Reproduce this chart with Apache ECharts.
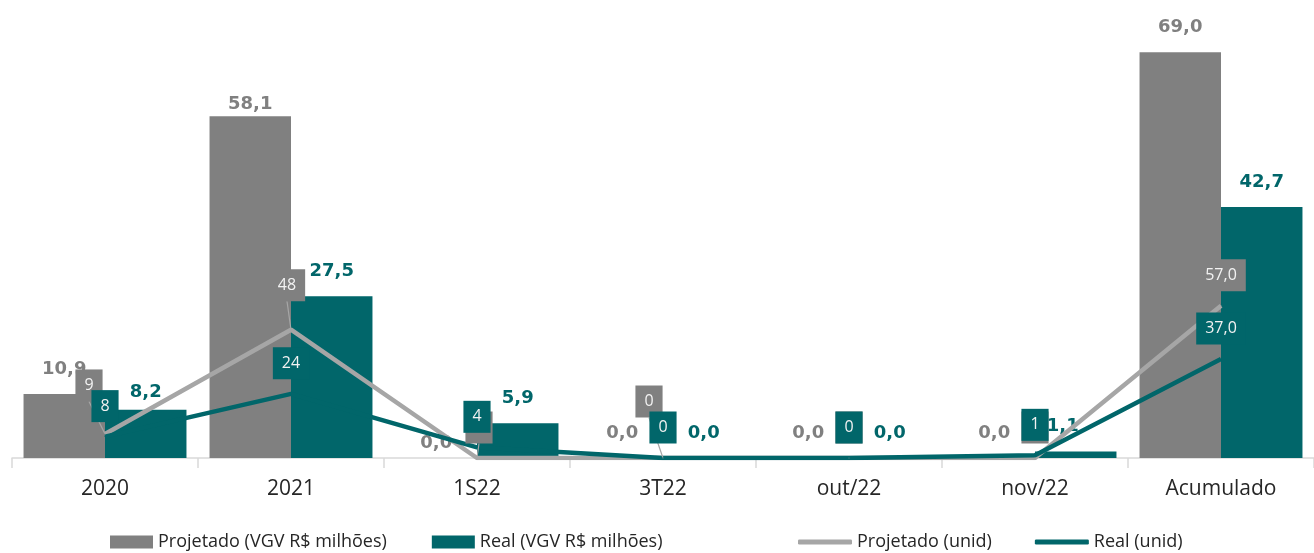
<!DOCTYPE html>
<html>
<head>
<meta charset="utf-8">
<style>
  html, body { margin: 0; padding: 0; background: #ffffff; }
  #chart { width: 1314px; height: 553px; }
</style>
<script src="https://cdn.jsdelivr.net/npm/echarts@6/dist/echarts.min.js"></script>
</head>
<body>
<div id="chart"></div>
<script>
// Periods on the category axis
const categories = ['2020', '2021', '1S22', '3T22', 'out/22', 'nov/22', 'Acumulado'];

// VGV in R$ millions (bars, left scale)
const projetadoVGV = [10.9, 58.1, 0.0, 0.0, 0.0, 0.0, 69.0];
const realVGV = [8.2, 27.5, 5.9, 0.0, 0.0, 1.1, 42.7];

// Units (lines, right scale)
const projetadoUnid = [9, 48, 0, 0, 0, 0, 57];
const realUnid = [8, 24, 4, 0, 0, 1, 37];

// Hand-placed label nudges [dx, dy] so overlapping labels stay readable
const projVGVNudge = [[0, 0], [0, 13], [0, 10], [0, 0], [0, 0], [0, 0], [0, 0]];
const realVGVNudge = [[0, 8], [0, 0], [0, 0], [0, 0], [0, 0], [-13, 0], [0, 0]];
const projUnidNudge = [[-16, -18], [-4, -14], [2, 0], [-14, -26], [0, 0], [0, 0], [0, 0]];

const GRAY = '#808080';
const TEAL = '#01666A';
const LIGHT_GRAY = '#A6A6A6';

const fmt1 = v => v.toFixed(1).replace('.', ',');
const lastIndex = categories.length - 1;
const unidFmt = p => (p.dataIndex === lastIndex ? fmt1(p.value) : String(p.value));

const nudge = table => params => {
  const n = table[params.dataIndex] || [0, 0];
  return { dx: n[0], dy: n[1] };
};

// Leader lines only where a label was pushed away from its point
const withLeaders = (values, table) => values.map((v, i) => ({
  value: v,
  labelLine: { show: table[i][0] !== 0 || table[i][1] !== 0 }
}));

const barLabel = color => ({
  show: true,
  position: 'top',
  distance: 16,
  formatter: p => fmt1(p.value),
  color: color,
  fontFamily: 'DejaVu Sans',
  fontWeight: 'bold',
  fontSize: 18
});

const boxLabel = bg => ({
  show: true,
  position: 'top',
  distance: 14,
  formatter: unidFmt,
  color: '#F2F2F2',
  backgroundColor: bg,
  padding: [7, 9],
  lineHeight: 18,
  fontFamily: 'Open Sans',
  fontSize: 16
});

const chart = echarts.init(document.getElementById('chart'), null, { renderer: 'canvas' });

chart.setOption({
  animation: false,
  backgroundColor: '#ffffff',
  textStyle: { fontFamily: 'Open Sans' },
  grid: { left: 12, right: -8, top: 17, bottom: 95, containLabel: false },
  legend: [
    {
      data: ['Projetado (VGV R$ milhões)', 'Real (VGV R$ milhões)'],
      left: 105,
      top: 527,
      itemWidth: 43,
      itemHeight: 13,
      itemGap: 45,
      icon: 'rect',
      textStyle: { color: '#262626', fontSize: 18, lineHeight: 20, fontFamily: 'Open Sans' }
    },
    {
      data: ['Projetado (unid)', 'Real (unid)'],
      left: 793,
      top: 527,
      itemWidth: 54,
      itemHeight: 5,
      itemGap: 43,
      icon: 'roundRect',
      textStyle: { color: '#262626', fontSize: 18, lineHeight: 20, fontFamily: 'Open Sans' }
    }
  ],
  xAxis: {
    type: 'category',
    data: categories,
    boundaryGap: true,
    axisLine: { show: true, lineStyle: { color: '#D9D9D9', width: 1.5 } },
    axisTick: { show: true, length: 10, lineStyle: { color: '#D9D9D9', width: 1.5 } },
    axisLabel: { color: '#262626', fontSize: 21, margin: 21, fontFamily: 'Open Sans' }
  },
  yAxis: [
    { type: 'value', min: 0, max: 75, show: false, splitLine: { show: false } },
    { type: 'value', min: 0, max: 165, show: false, splitLine: { show: false } }
  ],
  series: [
    {
      name: 'Projetado (VGV R$ milhões)',
      type: 'bar',
      yAxisIndex: 0,
      data: projetadoVGV,
      barGap: '0%',
      barCategoryGap: '12.4%',
      itemStyle: { color: GRAY },
      label: barLabel(GRAY),
      labelLayout: nudge(projVGVNudge)
    },
    {
      name: 'Real (VGV R$ milhões)',
      type: 'bar',
      yAxisIndex: 0,
      data: realVGV,
      barGap: '0%',
      barCategoryGap: '12.4%',
      itemStyle: { color: TEAL },
      label: barLabel(TEAL),
      labelLayout: nudge(realVGVNudge)
    },
    {
      name: 'Projetado (unid)',
      type: 'line',
      yAxisIndex: 1,
      data: withLeaders(projetadoUnid, projUnidNudge),
      symbol: 'circle',
      symbolSize: 1,
      showSymbol: true,
      lineStyle: { color: LIGHT_GRAY, width: 4.5 },
      itemStyle: { color: LIGHT_GRAY },
      label: boxLabel(GRAY),
      labelLine: { show: true, lineStyle: { color: LIGHT_GRAY, width: 1.2 } },
      labelLayout: nudge(projUnidNudge)
    },
    {
      name: 'Real (unid)',
      type: 'line',
      yAxisIndex: 1,
      data: realUnid,
      symbol: 'circle',
      symbolSize: 1,
      showSymbol: true,
      lineStyle: { color: TEAL, width: 4.5 },
      itemStyle: { color: TEAL },
      label: boxLabel(TEAL)
    }
  ]
});
</script>
</body>
</html>
